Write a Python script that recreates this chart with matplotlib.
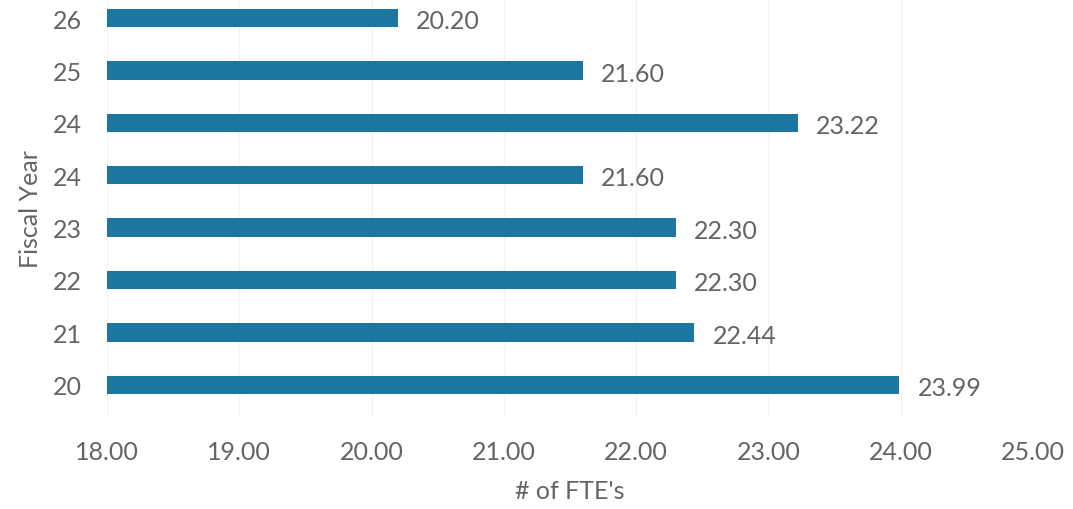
import matplotlib.pyplot as plt
import numpy as np

# Data (bottom to top)
years = ["20", "21", "22", "23", "24", "24", "25", "26"]
fte = [23.99, 22.44, 22.30, 22.30, 21.60, 23.22, 21.60, 20.20]
xticks = [18, 19, 20, 21, 22, 23, 24, 25]

BAR = "#1b76a2"
TXT = "#646464"
FS = 18
plt.rcParams['font.family'] = ['Lato', 'DejaVu Sans']

fig = plt.figure(figsize=(10.73, 5.10), dpi=100)
ax = fig.add_axes([0.0997, 0.182, 0.863, 0.8166])

pos = np.arange(len(years))
bars = ax.barh(pos, [v - 18 for v in fte], left=18, height=0.35, color=BAR, zorder=2)

for b, v in zip(bars, fte):
    ax.annotate(f"{v:.2f}", (b.get_x() + b.get_width(), b.get_y() + b.get_height() / 2),
                xytext=(13, -2), textcoords="offset points", va="center", ha="left",
                fontsize=FS, color=TXT)

ax.set_xlim(18, 25)
ax.set_ylim(-0.6, 7.35)
ax.set_xticks(xticks)
ax.set_xticklabels([f"{t:.2f}" for t in xticks])
ax.set_yticks(pos)
ax.set_yticklabels(years)
ax.tick_params(axis="both", length=0, labelsize=FS, colors=TXT)
ax.tick_params(axis="x", pad=17)
ax.tick_params(axis="y", pad=18)
ax.grid(axis="x", color="#f3f3f3", lw=1, zorder=0)
for s in ax.spines.values():
    s.set_visible(False)

ax.set_xlabel("# of FTE's", fontsize=FS, color=TXT, labelpad=12)
ax.set_ylabel("Fiscal Year", fontsize=FS, color=TXT, labelpad=8)

fig.savefig("out.png", dpi=100, facecolor="white")
